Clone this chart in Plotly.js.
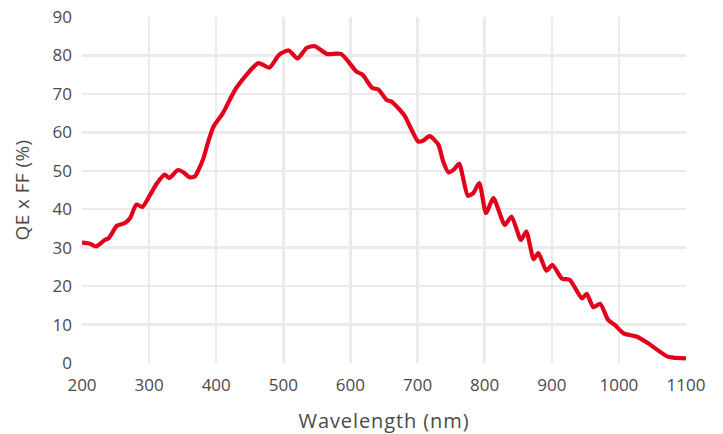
<!DOCTYPE html>
<html>
<head>
<meta charset="utf-8">
<script src="https://cdn.plot.ly/plotly-3.0.1.min.js"></script>
<style>
html,body{margin:0;padding:0;background:#fff;}
#chart{width:723px;height:434px;}
#chart .xtitle{letter-spacing:0.9px;}
#chart .ytitle{letter-spacing:0.4px;}
</style>
</head>
<body>
<div id="chart"></div>
<script>
const wavelength = [200, 212, 221, 234, 240, 252, 264, 272, 281, 290, 301, 312, 323, 330, 343, 352, 360, 368, 373, 381, 388, 396, 410, 430, 463, 479, 494, 508, 521, 535, 547, 565, 586, 609, 618, 632, 642, 654, 661, 680, 701, 708, 718, 731, 738, 746, 754, 762, 775, 783, 792, 802, 813, 830, 840, 854, 862, 873, 880, 892, 901, 915, 927, 945, 952, 962, 972, 984, 994, 1007, 1026, 1043, 1071, 1081, 1100];
const qeff = [31.3, 31.0, 30.3, 32.0, 32.5, 35.7, 36.4, 37.8, 41.2, 40.6, 43.6, 46.8, 49.0, 48.1, 50.2, 49.5, 48.3, 48.5, 50.0, 53.3, 57.5, 61.5, 65.0, 71.6, 78.0, 76.8, 80.2, 81.3, 79.2, 82.0, 82.4, 80.4, 80.4, 75.8, 75.0, 71.6, 71.1, 68.4, 68.0, 64.5, 57.6, 57.8, 59.0, 56.8, 52.5, 49.6, 50.3, 51.8, 43.5, 44.2, 46.8, 39.0, 42.9, 35.9, 38.1, 32.0, 34.2, 27.0, 28.6, 24.0, 25.5, 22.0, 21.6, 16.8, 18.0, 14.5, 15.4, 11.2, 9.9, 7.7, 6.9, 5.2, 1.8, 1.4, 1.2];
const xTicks = [200, 300, 400, 500, 600, 700, 800, 900, 1000, 1100];
const yTicks = [0, 10, 20, 30, 40, 50, 60, 70, 80, 90];

const fontFam = '"Open Sans", "Noto Sans", sans-serif';
Plotly.newPlot('chart', [{
  x: wavelength,
  y: qeff,
  type: 'scatter',
  mode: 'lines',
  line: {color: '#e2001a', width: 4.2, shape: 'spline', smoothing: 0.6},
  cliponaxis: false,
  hoverinfo: 'skip'
}], {
  width: 723,
  height: 434,
  margin: {l: 82, r: 37, t: 17, b: 71},
  paper_bgcolor: '#ffffff',
  plot_bgcolor: '#ffffff',
  showlegend: false,
  font: {family: fontFam, color: '#4a4a4a', size: 17},
  xaxis: {
    range: [200, 1100],
    tickvals: xTicks,
    ticktext: xTicks.map(String),
    showgrid: true,
    gridcolor: '#ebebeb',
    gridwidth: 2.5,
    zeroline: false,
    showline: false,
    ticks: '',
    ticklabelstandoff: 10,
    tickfont: {size: 17, color: '#4a4a4a'},
    title: {text: 'Wavelength (nm)', font: {size: 20, color: '#4a4a4a'}, standoff: 20}
  },
  yaxis: {
    range: [0, 90],
    tickvals: yTicks,
    ticktext: yTicks.map(String),
    showgrid: true,
    gridcolor: '#ebebeb',
    gridwidth: 2.5,
    zeroline: false,
    showline: false,
    ticks: '',
    ticklabelstandoff: 9,
    tickfont: {size: 17, color: '#4a4a4a'},
    title: {text: 'QE x FF (%)', font: {size: 19, color: '#4a4a4a'}, standoff: 17}
  }
}, {staticPlot: true, displayModeBar: false});
</script>
</body>
</html>
